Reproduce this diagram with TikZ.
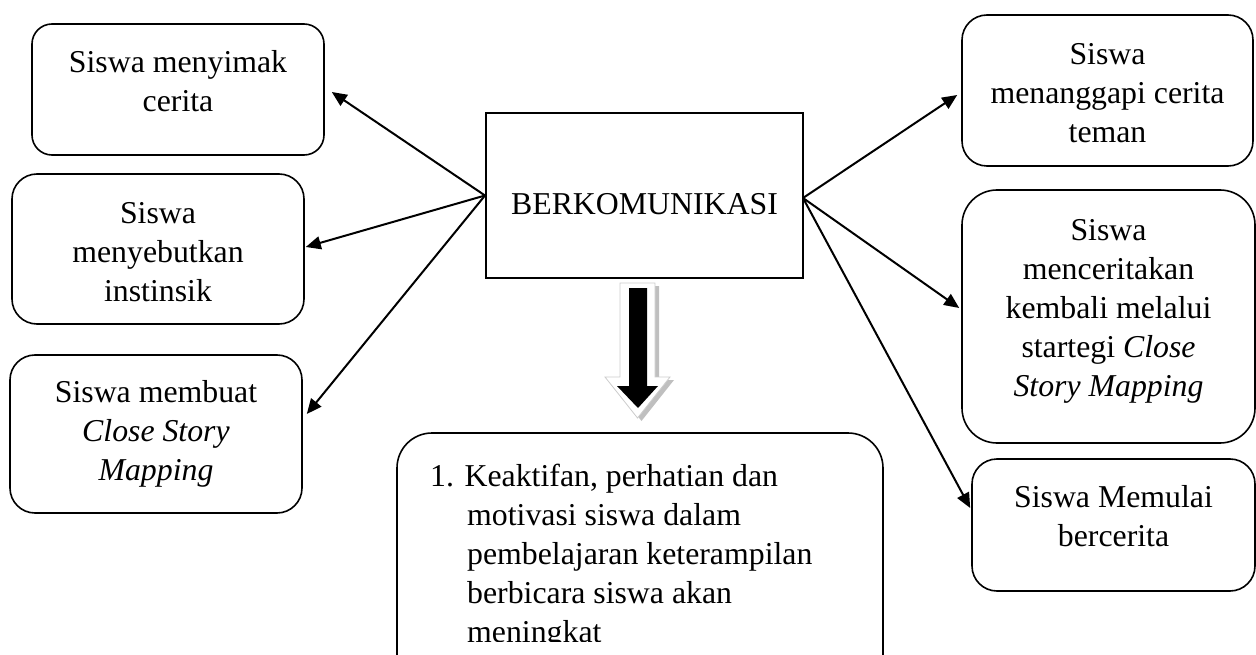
\documentclass[tikz,border=0pt]{standalone}
\usepackage{fontspec}
\setmainfont{Liberation Serif}
\usetikzlibrary{arrows.meta,calc}
\begin{document}
\begin{tikzpicture}[x=1pt,y=-1pt,
  box/.style={draw,line width=1.6pt,inner sep=0pt},
  txt/.style={align=center,inner sep=0pt,font=\fontsize{31.8}{39}\selectfont},
  arr/.style={line width=2pt,-{Triangle[length=15pt,width=13pt]}}]
\useasboundingbox (0,0) rectangle (1256,655);
\clip (0,0) rectangle (1256,655);

% hub
\node[box,line width=2pt,minimum width=317pt,minimum height=165pt] (hub) at (644.5,195.5) {};
\node[txt] (hubt) at (644.5,204.5) {BERKOMUNIKASI};

% left boxes
\node[box,rounded corners=20pt,minimum width=292pt,minimum height=131pt] (A) at (178,89.5) {};
\node[txt] (At) at (178,81.5) {Siswa menyimak\\cerita};
\node[box,rounded corners=25pt,minimum width=292pt,minimum height=150pt] (B) at (158,249) {};
\node[txt] (Bt) at (158,252.5) {Siswa\\menyebutkan\\instinsik};
\node[box,rounded corners=25pt,minimum width=292pt,minimum height=158pt] (C) at (156,434) {};
\node[txt] (Ct) at (156,434) {Siswa membuat\\\textit{Close Story}\\\textit{Mapping}};

% right boxes
\node[box,rounded corners=25pt,minimum width=291pt,minimum height=151pt] (D) at (1107.5,90.5) {};
\node[txt] (Dt) at (1107.5,93.5) {Siswa\\menanggapi cerita\\teman};
\node[box,rounded corners=35pt,minimum width=293pt,minimum height=253pt] (E) at (1108.5,316.5) {};
\node[txt] (Et) at (1108.5,311.5) {Siswa\\menceritakan\\kembali melalui\\startegi \textit{Close}\\\textit{Story Mapping}};
\node[box,rounded corners=25pt,minimum width=283pt,minimum height=132pt] (F) at (1113.5,525) {};
\node[txt] (Ft) at (1113.5,516.5) {Siswa Memulai\\bercerita};

% bottom box
\node[box,rounded corners=35pt,minimum width=486pt,minimum height=257pt] (G) at (640,561.5) {};
\begin{scope}
\clip (0,0) rectangle (1256,641);
\node[inner sep=0pt,align=left,anchor=north west,font=\fontsize{31.8}{39}\selectfont] (Gt) at (430,464)
  {1. Keaktifan, perhatian dan\\\hspace*{37pt}motivasi siswa dalam\\\hspace*{37pt}pembelajaran keterampilan\\\hspace*{37pt}berbicara siswa akan\\\hspace*{37pt}meningkat};
\end{scope}

% connectors
\draw[arr] (hub.west) -- ($(A.east)+(7,2.5)$);
\draw[arr] (hub.west) -- ($(B.east)+(1,-2)$);
\draw[arr] (hub.west) -- ($(C.east)+(4,-20)$);
\draw[arr] ($(hub.east)+(-1,2.5)$) -- ($(D.west)+(-4,4.5)$);
\draw[arr] ($(hub.east)+(-1,2.5)$) -- ($(E.west)+(-2,-8.5)$);
\draw[arr] ($(hub.east)+(-1,2.5)$) -- ($(F.west)+(-1,-17)$);

% block arrow
\fill[black!25,shift={(4,3)}] (620,283) -- (655,283) -- (655,377) -- (670,377) -- (637.5,418) -- (605,377) -- (620,377) -- cycle;
\filldraw[fill=white,draw=black!20,line width=0.8pt] (620,283) -- (655,283) -- (655,377) -- (670,377) -- (637.5,418) -- (605,377) -- (620,377) -- cycle;
\fill[black] (629,288) -- (647,288) -- (647,386) -- (658,386) -- (638,408) -- (617,386) -- (629,386) -- cycle;
\end{tikzpicture}
\end{document}
